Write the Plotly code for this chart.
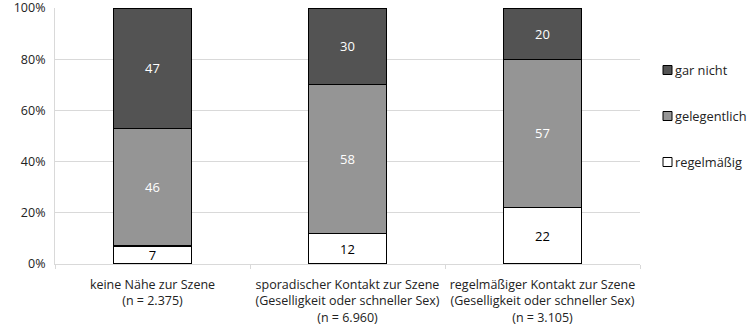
import plotly.graph_objects as go

# Nähe zur Szene (Kategorien) und Häufigkeit in Prozent je Gruppe
categories = [
    "keine Nähe zur Szene<br>(n = 2.375)",
    "sporadischer Kontakt zur Szene<br>(Geselligkeit oder schneller Sex)<br>(n = 6.960)",
    "regelmäßiger Kontakt zur Szene<br>(Geselligkeit oder schneller Sex)<br>(n = 3.105)",
]
series_names = ["regelmäßig", "gelegentlich", "gar nicht"]
regelmaessig = [7, 12, 22]
gelegentlich = [46, 58, 57]
gar_nicht = [47, 30, 20]
y_ticks = [0, 20, 40, 60, 80, 100]

values = [regelmaessig, gelegentlich, gar_nicht]
fills = ["#ffffff", "#959595", "#535353"]
text_colors = ["#000000", "#ffffff", "#ffffff"]

FONT = "Open Sans"
FS = 12.5

fig = go.Figure()
for name, vals, fill, tc in zip(series_names, values, fills, text_colors):
    fig.add_trace(go.Bar(
        name=name,
        x=categories,
        y=vals,
        text=vals,
        texttemplate="%{text}",
        textposition="inside",
        insidetextanchor="middle",
        textangle=0,
        constraintext="none",
        textfont=dict(family=FONT, size=13, color=tc),
        marker=dict(color=fill, line=dict(color="#000000", width=1.2)),
        width=0.4,
        showlegend=False,
    ))

# Legende rechts neben dem Diagramm: Kästchen + Beschriftung, oberste Reihe zuerst
legend_rows = list(zip(series_names, fills))[::-1]
for i, (name, fill) in enumerate(legend_rows):
    yc = 70 + i * 46  # Pixel von oben
    fig.add_shape(
        type="rect", xref="paper", yref="paper",
        x0=(663 - 55) / 585, x1=(672 - 55) / 585,
        y0=1 - (yc - 8 + 4.5) / 256, y1=1 - (yc - 8 - 4.5) / 256,
        fillcolor=fill, line=dict(color="#000000", width=1),
    )
    fig.add_annotation(
        xref="paper", yref="paper",
        x=(673 - 55) / 585, y=1 - (yc - 8) / 256,
        text=name, showarrow=False, xanchor="left", yanchor="middle",
        font=dict(family=FONT, size=12.8, color="#222222"),
    )

fig.update_layout(
    barmode="stack",
    barnorm="percent",
    width=752, height=329,
    margin=dict(l=55, r=112, t=8, b=65, autoexpand=False),
    paper_bgcolor="#ffffff",
    plot_bgcolor="#ffffff",
    font=dict(family=FONT, size=FS, color="#222222"),
    xaxis=dict(
        type="category",
        automargin=False,
        tickson="boundaries",
        ticks="outside", ticklen=4, tickcolor="#d9d9d9",
        showline=True, linecolor="#d9d9d9", linewidth=1,
        showgrid=False,
        ticklabelstandoff=9,
        tickfont=dict(family=FONT, size=FS, color="#222222"),
    ),
    yaxis=dict(
        automargin=False,
        range=[0, 100],
        tickmode="array",
        tickvals=y_ticks,
        ticktext=[f"{v}%" for v in y_ticks],
        ticklabeloverflow="allow",
        showgrid=True, gridcolor="#d9d9d9", gridwidth=1,
        showline=True, linecolor="#d9d9d9", linewidth=1,
        zeroline=False,
        ticks="", ticklabelstandoff=6,
        tickfont=dict(family=FONT, size=FS, color="#222222"),
    ),
)

fig.write_html("out.html")
